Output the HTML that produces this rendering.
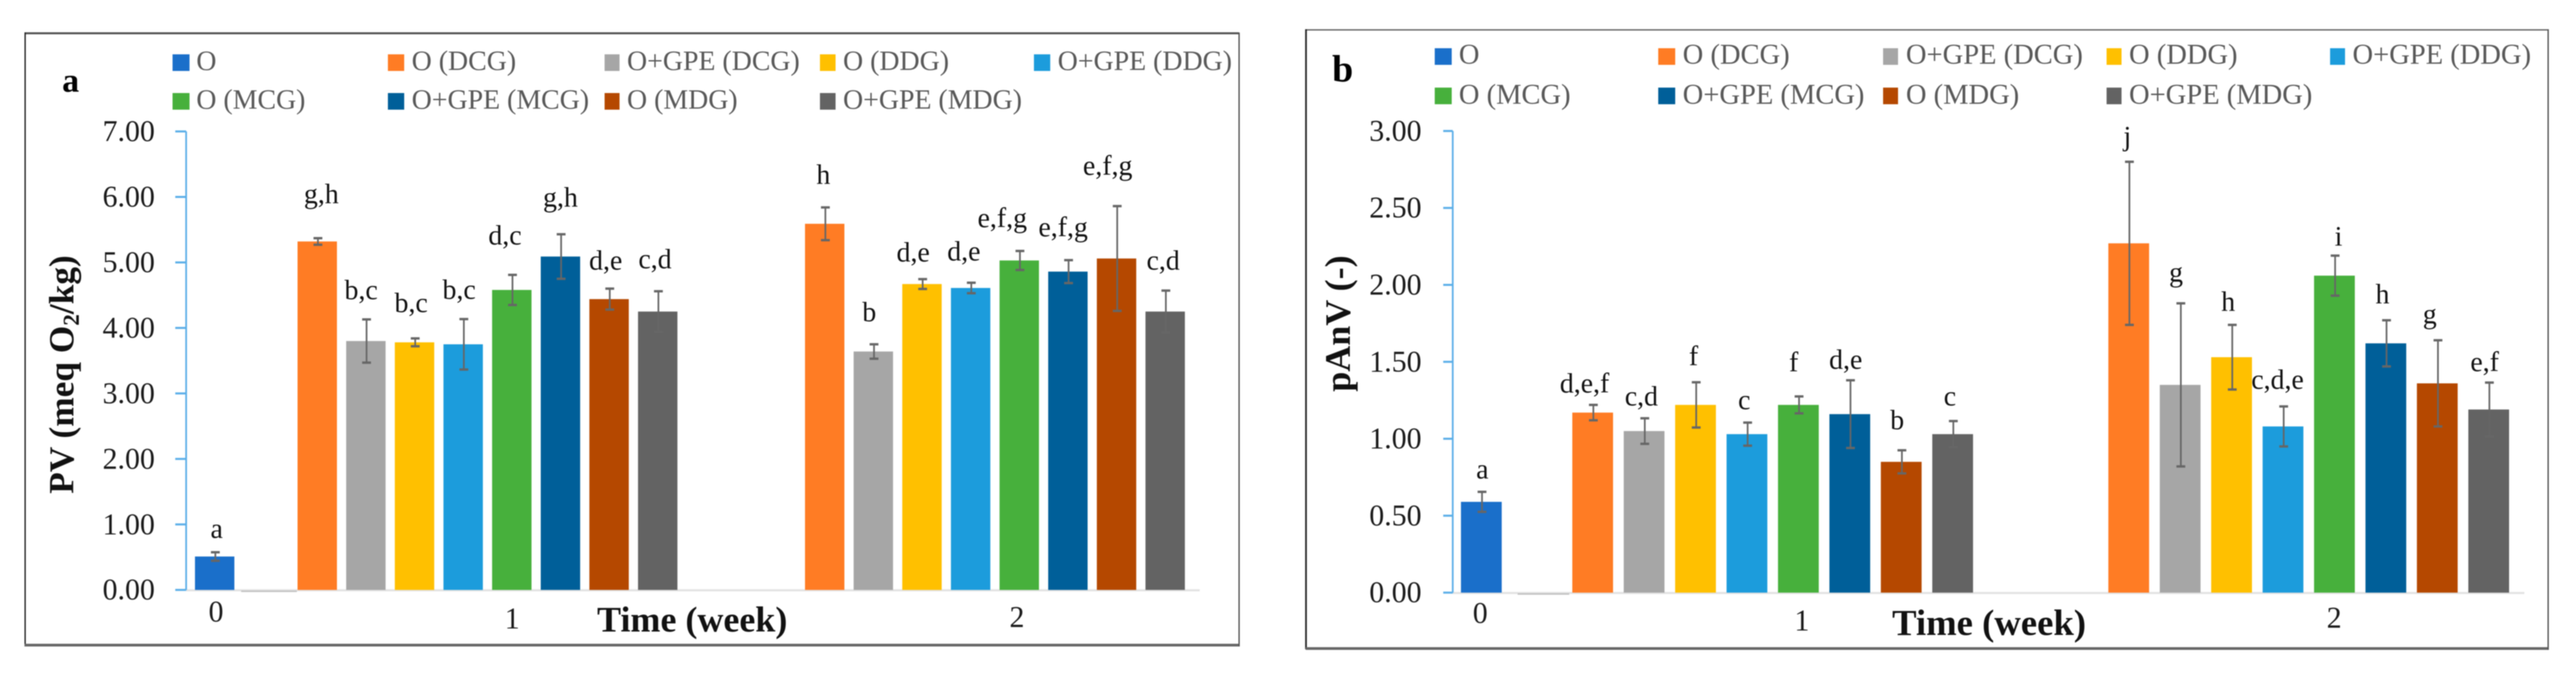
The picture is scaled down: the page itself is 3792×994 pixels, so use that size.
<!DOCTYPE html>
<html lang="en">
<head>
<meta charset="utf-8">
<title>PV and pAnV over storage time</title>
<style>
  html, body { margin: 0; padding: 0; background: #fff; }
  body { width: 3792px; height: 994px; overflow: hidden; }
  svg { display: block; filter: blur(0.7px); font-family: "Liberation Serif", serif; }
</style>
</head>
<body>
<svg id="figure" xmlns="http://www.w3.org/2000/svg" width="3792" height="994" viewBox="0 0 3792 994">
  <rect width="3792" height="994" fill="#fff"/>

  <g id="panel-a">
    <text x="104" y="135" font-size="50" font-weight="700" text-anchor="middle" fill="#000">a</text>
    <text transform="translate(108 551.5) rotate(-90)" font-size="52" font-weight="700" text-anchor="middle" fill="#111">PV (meq O<tspan font-size="34" dy="8">2</tspan><tspan dy="-8">/kg)</tspan></text>
    <text x="1019" y="930" font-size="53" font-weight="700" text-anchor="middle" fill="#111">Time (week)</text>
  </g>

  <g id="panel-b">
    <text x="1976.5" y="120" font-size="56" font-weight="700" text-anchor="middle" fill="#000">b</text>
    <text transform="translate(1987 476.5) rotate(-90)" font-size="53" font-weight="700" text-anchor="middle" fill="#111">pAnV (-)</text>
    <text x="2928" y="935" font-size="54" font-weight="700" text-anchor="middle" fill="#111">Time (week)</text>
  </g>
</svg>

<script>
// ---- shared categories and labels ----
const weekLabels = ['0', '1', '2'];
const seriesNames = ['O', 'O (DCG)', 'O+GPE (DCG)', 'O (DDG)', 'O+GPE (DDG)', 'O (MCG)', 'O+GPE (MCG)', 'O (MDG)', 'O+GPE (MDG)'];
const week0Series = [0];
const laterWeekSeries = [1, 2, 3, 4, 5, 6, 7, 8];

// ---- panel a: PV ----
const pvTicks = [0, 1, 2, 3, 4, 5, 6, 7];
const pvWeek0 = [0.51];
const pvWeek1 = [5.32, 3.80, 3.78, 3.75, 4.58, 5.09, 4.44, 4.25];
const pvWeek2 = [5.59, 3.64, 4.67, 4.61, 5.03, 4.86, 5.06, 4.25];
const pvErrWeek0 = [0.065];
const pvErrWeek1 = [0.05, 0.33, 0.06, 0.385, 0.23, 0.34, 0.16, 0.31];
const pvErrWeek2 = [0.25, 0.11, 0.075, 0.08, 0.145, 0.175, 0.80, 0.32];
const pvLettersWeek0 = ['a'];
const pvLettersWeek1 = ['g,h', 'b,c', 'b,c', 'b,c', 'd,c', 'g,h', 'd,e', 'c,d'];
const pvLettersWeek2 = ['h', 'b', 'd,e', 'd,e', 'e,f,g', 'e,f,g', 'e,f,g', 'c,d'];

// ---- panel b: pAnV ----
const panvTicks = [0, 0.5, 1, 1.5, 2, 2.5, 3];
const panvWeek0 = [0.59];
const panvWeek1 = [1.17, 1.05, 1.22, 1.03, 1.22, 1.16, 0.85, 1.03];
const panvWeek2 = [2.27, 1.35, 1.53, 1.08, 2.06, 1.62, 1.36, 1.19];
const panvErrWeek0 = [0.065];
const panvErrWeek1 = [0.05, 0.083, 0.147, 0.075, 0.055, 0.22, 0.075, 0.085];
const panvErrWeek2 = [0.53, 0.53, 0.21, 0.13, 0.13, 0.15, 0.28, 0.175];
const panvLettersWeek0 = ['a'];
const panvLettersWeek1 = ['d,e,f', 'c,d', 'f', 'c', 'f', 'd,e', 'b', 'c'];
const panvLettersWeek2 = ['j', 'g', 'h', 'c,d,e', 'i', 'h', 'g', 'e,f'];

const SVG_NS = 'http://www.w3.org/2000/svg';
const seriesColors = ['#1a6fca', '#ff7c24', '#a6a6a6', '#ffc000', '#1c9cdc', '#47b03c', '#005f99', '#b54800', '#636363'];

function make(parent, tag, attrs, text) {
  const el = document.createElementNS(SVG_NS, tag);
  for (const k in attrs) el.setAttribute(k, attrs[k]);
  if (text !== undefined) el.textContent = text;
  parent.appendChild(el);
  return el;
}

function drawPanel(root, p) {
  const yOf = v => p.y0 - v * p.unit;
  const slotX = (week, i) => p.groupX[week] + i * p.pitch;

  // frame
  p.frameEdges.forEach(function (e) {
    const edge = make(root, 'line', { x1: e[0], y1: e[1], x2: e[2], y2: e[3], stroke: e[4], 'stroke-width': e[5] });
    
    
  });

  // legend
  seriesNames.forEach(function (name, i) {
    const row = i < 5 ? 0 : 1;
    const col = i < 5 ? i : i - 5;
    const entry = make(root, 'g', {});
    
    
    const swatch = make(entry, 'rect', { x: p.legendSwatchX[col], y: p.legendRowY[row], width: p.legendSwatchW[col], height: 24.5, fill: seriesColors[i] });
    
    
    const label = make(entry, 'text', { x: p.legendTextX[col], y: p.legendBaseY[row], 'font-size': p.legendFont, fill: '#595959' }, name);
    
    
  });

  // x axis baseline
  const base = make(root, 'line', { x1: p.axisX, y1: p.y0 + 0.5, x2: p.axisEnd, y2: p.y0 + 0.5, stroke: '#e2e2e2', 'stroke-width': 3 });
  
  
  const gapLine = make(root, 'line', { x1: p.gapLine[0], y1: p.y0 + 2, x2: p.gapLine[1], y2: p.y0 + 2, stroke: '#bdbdbd', 'stroke-width': 2 });
  
  

  // y axis
  const yAxis = make(root, 'line', { x1: p.axisX, y1: yOf(p.ticks[p.ticks.length - 1]), x2: p.axisX, y2: p.y0, stroke: '#5aaee8', 'stroke-width': 2.5 });
  
  
  p.ticks.forEach(function (t) {
    const tick = make(root, 'line', { x1: p.tickX0, y1: yOf(t), x2: p.axisX, y2: yOf(t), stroke: '#5aaee8', 'stroke-width': 3 });
    
    
    const lab = make(root, 'text', { x: p.tickRight, y: yOf(t) + 14, 'font-size': 44, 'text-anchor': 'end', fill: '#1a1a1a' }, t.toFixed(2));
    
    
  });

  // week labels
  weekLabels.forEach(function (w, i) {
    const lab = make(root, 'text', { x: p.weekLabelX[i], y: p.weekLabelY[i], 'font-size': 44, 'text-anchor': 'middle', fill: '#1a1a1a' }, w);
    
    
  });

  // bars, error bars, significance letters
  p.values.forEach(function (weekValues, week) {
    const seriesIdx = week === 0 ? week0Series : laterWeekSeries;
    weekValues.forEach(function (v, i) {
      const x = slotX(week, i);
      const cx = x + p.barW / 2;
      const err = p.errors[week][i];

      const bar = make(root, 'rect', { x: x, y: yOf(v), width: p.barW, height: p.y0 - yOf(v), fill: seriesColors[seriesIdx[i]] });
      
      

      const ex = cx + 1;
      const errGroup = make(root, 'g', { stroke: '#666', fill: 'none' });
      
      
      make(errGroup, 'line', { x1: ex, y1: yOf(v + err), x2: ex, y2: yOf(v - err), 'stroke-width': 2.5 });
      make(errGroup, 'line', { x1: ex - 6.5, y1: yOf(v + err), x2: ex + 6.5, y2: yOf(v + err), 'stroke-width': 3.5 });
      make(errGroup, 'line', { x1: ex - 6.5, y1: yOf(v - err), x2: ex + 6.5, y2: yOf(v - err), 'stroke-width': 3.5 });

      const letter = make(root, 'text', {
        x: cx + p.letterDx[week][i],
        y: yOf(v + err) - p.letterGap[week][i],
        'font-size': 41, 'text-anchor': 'middle', fill: '#111'
      }, p.letters[week][i]);
      
      
    });
  });
}

drawPanel(document.getElementById('panel-a'), {
  ticks: pvTicks,
  values: [pvWeek0, pvWeek1, pvWeek2],
  errors: [pvErrWeek0, pvErrWeek1, pvErrWeek2],
  letters: [pvLettersWeek0, pvLettersWeek1, pvLettersWeek2],
  y0: 868.7, unit: 96.45, axisX: 274, tickX0: 258, axisEnd: 1766, tickRight: 228,
  groupX: [287, 438, 1185], pitch: 71.6, barW: 58, gapLine: [355, 437],
  frameEdges: [
    [36, 49, 1824, 49, '#555', 3], [37, 48, 37, 951, '#222', 2],
    [36, 950, 1825, 950, '#666', 4], [1824, 48, 1824, 952, '#555', 2]
  ],
  legendSwatchX: [254, 571, 890, 1207, 1522], legendSwatchW: [25, 24, 22, 23, 24],
  legendTextX: [289, 606, 923, 1241, 1557], legendRowY: [80, 137], legendBaseY: [103, 160], legendFont: 41,
  weekLabelX: [318, 754, 1497], weekLabelY: [915, 925, 923],
  letterDx: [[3], [6, -7, -5, -6, -10, 0, -5, -4], [-2, -6, -13, -10, -25, -7, -13, -3]],
  letterGap: [[21], [52, 30, 39, 30, 45, 41, 28, 34], [35, 34, 26, 33, 35, 35, 46, 31]]
});

drawPanel(document.getElementById('panel-b'), {
  ticks: panvTicks,
  values: [panvWeek0, panvWeek1, panvWeek2],
  errors: [panvErrWeek0, panvErrWeek1, panvErrWeek2],
  letters: [panvLettersWeek0, panvLettersWeek1, panvLettersWeek2],
  y0: 872.7, unit: 226.6, axisX: 2138.5, tickX0: 2124.5, axisEnd: 3716, tickRight: 2092.6,
  groupX: [2150.6, 2314.5, 3103.6], pitch: 75.7, barW: 60, gapLine: [2234, 2310],
  frameEdges: [
    [1922, 44, 3752, 44, '#666', 2], [1922.5, 43, 1922.5, 956, '#222', 2.5],
    [1922, 955, 3752, 955, '#666', 4], [3751, 43, 3751, 957, '#555', 2]
  ],
  legendSwatchX: [2112, 2441, 2772, 3101, 3430], legendSwatchW: [25, 25, 22, 22, 22],
  legendTextX: [2147.5, 2477, 2805.6, 3134, 3463], legendRowY: [71, 129], legendBaseY: [94, 153], legendFont: 42,
  weekLabelX: [2179, 2652.5, 3436], weekLabelY: [917, 928, 924],
  letterDx: [[1.5], [-12, -4, -3, -4, -7, -6, -6, -4], [-2, -6, -5, -8, 6, -5, -11, -6]],
  letterGap: [[20], [18, 19, 25, 20, 37, 17, 31, 23], [24, 32, 21, 26, 15, 25, 25, 17]]
});
</script>
</body>
</html>
